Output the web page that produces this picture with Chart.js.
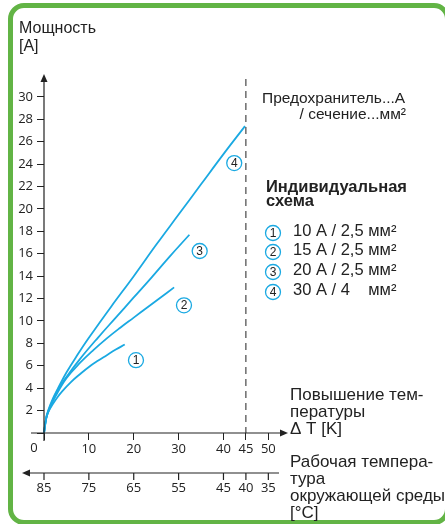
<!DOCTYPE html>
<html lang="ru">
<head>
  <meta charset="UTF-8" />
  <title>Мощность / повышение температуры</title>
  <style>
    body {
      margin: 0;
      background: #fff;
      width: 445px;
      height: 524px;
      overflow: hidden;
      position: relative;
    }
    .frame {
      position: absolute;
      left: 8px;
      top: 3px;
      width: 432px;
      height: 512px;
      border: 5px solid #62b445;
      border-radius: 16px;
    }
    canvas {
      position: absolute;
      left: 0;
      top: 0;
    }
  </style>
</head>
<body>

<div class="frame"></div>
<canvas id="chart" width="445" height="524"></canvas>

<script src="https://cdn.jsdelivr.net/npm/chart.js"></script>
<script>
  // curve 1: 10 A / 2,5 mm2
  const c1dT = [0, 0.5, 1, 2, 3, 4, 6, 8, 10, 12, 14, 16, 18];
  const c1A  = [0, 1.3, 1.9, 2.6, 3.2, 3.7, 4.55, 5.25, 5.9, 6.45, 6.95, 7.45, 7.9];
  // curve 2: 15 A / 2,5 mm2
  const c2dT = [0, 0.5, 1, 2, 3, 5, 8, 11, 14, 17, 20, 23, 26, 29];
  const c2A  = [0, 1.3, 1.95, 2.85, 3.6, 4.9, 6.25, 7.4, 8.45, 9.4, 10.3, 11.2, 12.1, 13.0];
  // curve 3: 20 A / 2,5 mm2
  const c3dT = [0, 0.5, 1, 2, 3, 5, 8, 12, 16, 20, 24, 28, 32.4];
  const c3A  = [0, 1.35, 2.0, 2.95, 3.8, 5.0, 6.6, 8.5, 10.3, 12.1, 13.9, 15.75, 17.7];
  // curve 4: 30 A / 4 mm2
  const c4dT = [0, 0.5, 1, 2, 3, 5, 7.5, 10, 15, 20, 25, 30, 35, 40, 44.8];
  const c4A  = [0, 1.4, 2.1, 3.1, 3.9, 5.4, 7.0, 8.5, 11.3, 14.0, 16.8, 19.5, 22.2, 24.9, 27.4];

  // numbered markers next to the curves
  const markNames = ['1', '2', '3', '4'];
  const markDT = [20.5, 31.2, 34.7, 42.4];
  const markA  = [6.5, 11.4, 16.25, 24.1];

  // axes
  const dTTicks = [0, 10, 20, 30, 40, 45, 50];
  const ambientLabels = ['85', '75', '65', '55', '45', '40', '35'];
  const powerTicks = [0, 2, 4, 6, 8, 10, 12, 14, 16, 18, 20, 22, 24, 26, 28, 30];
  const limitDT = 45;

  const legendLabels = ['10 A / 2,5 мм²', '15 A / 2,5 мм²', '20 A / 2,5 мм²', '30 A / 4    мм²'];

  const blue = '#1aa9e2';
  const ink = '#222';
  const textFont = '"Liberation Sans", Arial, sans-serif';
  const tickFont = '"Open Sans", sans-serif';

  function pts(xs, ys) {
    return xs.map((x, i) => ({ x: x, y: ys[i] }));
  }

  const series = [[c1dT, c1A], [c2dT, c2A], [c3dT, c3A], [c4dT, c4A]];

  const extras = {
    id: 'extras',
    afterDraw(chart) {
      const ctx = chart.ctx;
      const xs = chart.scales.x;
      const ys = chart.scales.y;
      const x0 = xs.getPixelForValue(0);
      const y0 = ys.getPixelForValue(0);

      ctx.save();
      ctx.strokeStyle = ink;
      ctx.fillStyle = ink;
      ctx.lineWidth = 1.2;

      // main axes with arrows
      ctx.beginPath();
      ctx.moveTo(31, y0);
      ctx.lineTo(xs.right, y0);
      ctx.moveTo(x0, y0 + 8);
      ctx.lineTo(x0, ys.top + 8);
      ctx.stroke();
      ctx.beginPath();
      ctx.moveTo(xs.right, y0 - 3.5);
      ctx.lineTo(xs.right + 8, y0);
      ctx.lineTo(xs.right, y0 + 3.5);
      ctx.fill();
      ctx.beginPath();
      ctx.moveTo(x0 - 3.5, ys.top + 8);
      ctx.lineTo(x0, ys.top);
      ctx.lineTo(x0 + 3.5, ys.top + 8);
      ctx.fill();

      // dashed limit at 45 K
      const xl = xs.getPixelForValue(limitDT);
      ctx.beginPath();
      ctx.setLineDash([7, 5]);
      ctx.lineWidth = 1;
      ctx.moveTo(xl, 79);
      ctx.lineTo(xl, y0);
      ctx.stroke();
      ctx.setLineDash([]);

      // ambient temperature axis
      const ty = 473;
      ctx.lineWidth = 1.2;
      ctx.beginPath();
      ctx.moveTo(30, ty);
      ctx.lineTo(279, ty);
      dTTicks.forEach(v => {
        const px = xs.getPixelForValue(v);
        ctx.moveTo(px, ty);
        ctx.lineTo(px, ty + 7);
      });
      ctx.stroke();
      ctx.beginPath();
      ctx.moveTo(30, ty - 3.5);
      ctx.lineTo(22, ty);
      ctx.lineTo(30, ty + 3.5);
      ctx.fill();

      ctx.font = '13px ' + tickFont;
      ctx.textAlign = 'center';
      ctx.textBaseline = 'middle';
      dTTicks.forEach((v, i) => {
        ctx.fillText(ambientLabels[i], xs.getPixelForValue(v), 488);
      });
      ctx.fillText('0', 34, 448);

      // numbered circles on the curves
      ctx.font = '12px ' + textFont;
      markNames.forEach((n, i) => {
        const px = xs.getPixelForValue(markDT[i]);
        const py = ys.getPixelForValue(markA[i]);
        ctx.beginPath();
        ctx.strokeStyle = blue;
        ctx.lineWidth = 1.3;
        ctx.arc(px, py, 7.5, 0, Math.PI * 2);
        ctx.stroke();
        ctx.fillStyle = ink;
        ctx.fillText(n, px, py + 0.5);
      });

      // texts
      ctx.fillStyle = ink;
      ctx.textAlign = 'left';
      ctx.font = '16px ' + textFont;
      ctx.fillText('Мощность', 19, 29);
      ctx.fillText('[A]', 19, 47);

      ctx.font = '15.5px ' + textFont;
      ctx.fillText('Предохранитель...А', 262, 99);
      ctx.textAlign = 'right';
      ctx.fillText('/ сечение...мм²', 406, 115);
      ctx.textAlign = 'left';

      ctx.font = 'bold 16.5px ' + textFont;
      ctx.fillText('Индивидуальная', 266, 187);
      ctx.fillText('схема', 266, 201);

      const legY = [233, 252, 272, 292];
      legendLabels.forEach((t, i) => {
        ctx.beginPath();
        ctx.strokeStyle = blue;
        ctx.lineWidth = 1.3;
        ctx.arc(273, legY[i], 7.5, 0, Math.PI * 2);
        ctx.stroke();
        ctx.font = '12px ' + textFont;
        ctx.textAlign = 'center';
        ctx.fillText(String(i + 1), 273, legY[i] + 0.5);
        ctx.font = '16.5px ' + textFont;
        ctx.textAlign = 'left';
        ctx.fillText(t, 293, legY[i] - 2);
      });

      ctx.font = '17px ' + textFont;
      ctx.fillText('Повышение тем-', 290, 395);
      ctx.fillText('пературы', 290, 412);
      ctx.fillText('\u0394 T [K]', 290, 429);
      ctx.fillText('Рабочая темпера-', 290, 462);
      ctx.fillText('тура', 290, 479);
      ctx.fillText('окружающей среды', 290, 496);
      ctx.fillText('[°C]', 290, 513);
      ctx.restore();
    }
  };

  new Chart(document.getElementById('chart'), {
    type: 'line',
    data: {
      datasets: series.map(s => ({
        data: pts(s[0], s[1]),
        borderColor: blue,
        borderWidth: 1.8,
        pointRadius: 0,
        fill: false,
        tension: 0.4,
        clip: false
      }))
    },
    options: {
      responsive: false,
      animation: false,
      devicePixelRatio: 1,
      layout: { padding: { left: 0, top: 74, right: 165, bottom: 0 } },
      plugins: { legend: { display: false }, tooltip: { enabled: false } },
      scales: {
        x: {
          type: 'linear',
          min: 0,
          max: 52.6,
          afterFit: s => { s.height = 91; },
          afterBuildTicks: s => { s.ticks = dTTicks.map(v => ({ value: v })); },
          border: { display: false },
          grid: { drawOnChartArea: false, drawTicks: true, tickLength: 7, color: ink },
          ticks: {
            autoSkip: false,
            maxRotation: 0,
            padding: 1,
            color: ink,
            font: { family: tickFont, size: 13 },
            callback: v => (v === 0 ? '' : String(v))
          }
        },
        y: {
          min: 0,
          max: 32.05,
          afterFit: s => { s.width = 44; },
          afterBuildTicks: s => { s.ticks = powerTicks.map(v => ({ value: v })); },
          border: { display: false },
          grid: { drawOnChartArea: false, drawTicks: true, tickLength: 7, color: ink },
          ticks: {
            autoSkip: false,
            padding: 4,
            color: ink,
            font: { family: tickFont, size: 13 },
            callback: v => (v === 0 ? '' : String(v))
          }
        }
      }
    },
    plugins: [extras]
  });
</script>

</body>
</html>
